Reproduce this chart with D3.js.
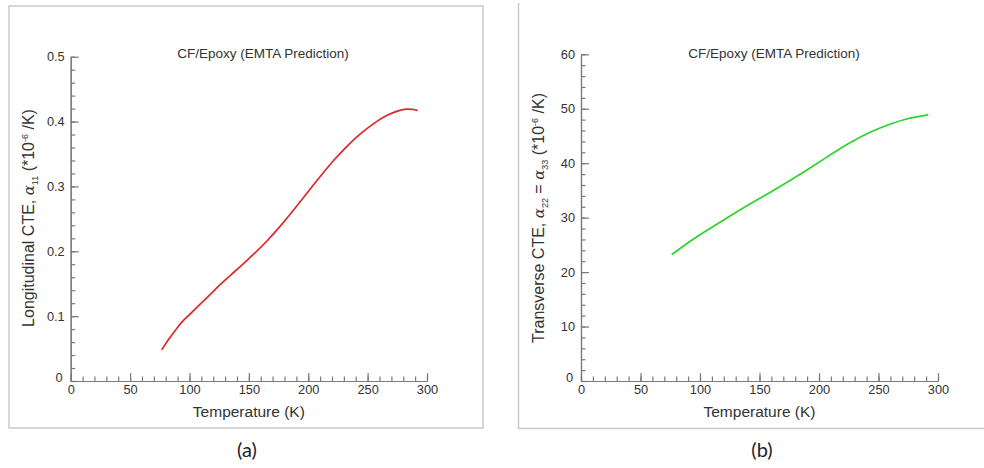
<!DOCTYPE html>
<html>
<head>
<meta charset="utf-8">
<script src="https://cdn.jsdelivr.net/npm/d3@7"></script>
<style>
  body { margin: 0; background: #fff; }
  text { font-family: "Liberation Sans", Arial, sans-serif; fill: #333; }
  .axis path, .axis line { stroke: #7a7a7a; stroke-width: 1.2; }
</style>
</head>
<body>
<div id="chart"></div>
<script>
// data
var tempA = [76.6, 83, 89.2, 94, 99.9, 107, 114.5, 121, 128.5, 135, 142.6, 153.8, 165, 176.3, 187.5, 198.7, 209.9, 221.2, 232.4, 243.6, 254.8, 266, 277.3, 282.9, 288, 292.2];
var cteA  = [0.048, 0.066, 0.081, 0.092, 0.102, 0.115, 0.128, 0.14, 0.153, 0.164, 0.176, 0.195, 0.215, 0.238, 0.263, 0.289, 0.315, 0.340, 0.362, 0.381, 0.397, 0.410, 0.418, 0.4195, 0.419, 0.417];

var tempB = [76.2, 87.4, 98.6, 109.8, 126.6, 143.4, 160.2, 177, 193.8, 210.6, 227.5, 244.3, 261.1, 272.3, 282, 291.9];
var cteB  = [23.2, 25.0, 26.7, 28.2, 30.5, 32.7, 34.8, 37.0, 39.3, 41.7, 44.0, 45.9, 47.3, 48.1, 48.5, 48.9];

var xTicks = [0, 50, 100, 150, 200, 250, 300];
var yTicksA = [0, 0.1, 0.2, 0.3, 0.4, 0.5];
var yTicksB = [0, 10, 20, 30, 40, 50, 60];

var panelTitle = "CF/Epoxy (EMTA Prediction)";
var xTitle = "Temperature (K)";

var width = 984, height = 468;

var svg = d3.select("#chart").append("svg")
    .attr("width", width)
    .attr("height", height);

// panel frames
svg.append("rect")
    .attr("x", 9).attr("y", 6)
    .attr("width", 474).attr("height", 422)
    .attr("fill", "none")
    .attr("stroke", "#c9c9c9")
    .attr("stroke-width", 1.5);

svg.append("path")
    .attr("d", "M518.5,3 L518.5,428.5 L984,428.5")
    .attr("fill", "none")
    .attr("stroke", "#c9c9c9")
    .attr("stroke-width", 1.5);

function styleTicks(g) {
    g.attr("font-family", null).attr("font-size", null);
    g.selectAll(".tick text")
        .style("font-family", "'Liberation Sans', Arial, sans-serif")
        .style("font-size", "12.8px")
        .style("fill", "#333");
}

function drawPanel(p) {
    var x = d3.scaleLinear().domain([0, 300]).range([p.x0, p.x1]);
    var y = d3.scaleLinear().domain([0, p.yMax]).range([p.y0, p.y1]);

    // minor ticks first
    var xMinor = d3.range(0, 301, 10);
    var yMinor = d3.range(0, p.yMax + p.yMinorStep / 2, p.yMinorStep);

    svg.append("g")
        .attr("class", "axis")
        .attr("transform", "translate(0," + p.y0 + ")")
        .call(d3.axisBottom(x).tickValues(xMinor).tickSize(-4.5).tickSizeOuter(0).tickFormat(""));

    svg.append("g")
        .attr("class", "axis")
        .attr("transform", "translate(" + p.x0 + ",0)")
        .call(d3.axisLeft(y).tickValues(yMinor).tickSize(-4.5).tickSizeOuter(0).tickFormat(""));

    // major ticks + labels
    svg.append("g")
        .attr("class", "axis")
        .attr("transform", "translate(0," + p.y0 + ")")
        .call(d3.axisBottom(x).tickValues(xTicks).tickSize(-8).tickSizeOuter(0).tickPadding(4))
        .call(styleTicks);

    var yAx = svg.append("g")
        .attr("class", "axis")
        .attr("transform", "translate(" + p.x0 + ",0)")
        .call(d3.axisLeft(y).tickValues(p.yTicks).tickSize(-8).tickSizeOuter(0).tickPadding(6)
            .tickFormat(function(d) { return String(d); }))
        .call(styleTicks);

    // the zero label sits a bit up-left like the original
    yAx.selectAll(".tick text")
        .filter(function(d) { return d === 0; })
        .attr("dy", "0.05em")
        .attr("x", -8);

    // curve
    var pts = p.temps.map(function(t, i) { return [t, p.vals[i]]; });
    var line = d3.line()
        .x(function(d) { return x(d[0]); })
        .y(function(d) { return y(d[1]); })
        .curve(d3.curveBasis);

    svg.append("path")
        .datum(pts)
        .attr("d", line)
        .attr("fill", "none")
        .attr("stroke", p.color)
        .attr("stroke-width", 1.7);

    // title
    svg.append("text")
        .attr("x", p.titleX)
        .attr("y", 58)
        .attr("text-anchor", "middle")
        .style("font-size", "13.5px")
        .text(panelTitle);

    // x title
    svg.append("text")
        .attr("x", (p.x0 + p.x1) / 2)
        .attr("y", 417)
        .attr("text-anchor", "middle")
        .style("font-size", "15.5px")
        .text(xTitle);

    // y title
    var yt = svg.append("text")
        .attr("transform", "translate(" + p.yLabelX + ",218) rotate(-90)")
        .attr("text-anchor", "middle")
        .style("font-size", "16px");
    p.yLabel.forEach(function(part) {
        var ts = yt.append("tspan").text(part.t);
        if (part.sub) ts.style("font-size", "9px").attr("dy", part.sub);
        if (part.greek) ts.style("font-family", "'DejaVu Serif', serif").style("font-style", "italic").style("font-size", "15px");
        if (part.dy) ts.attr("dy", part.dy);
    });

    // panel letter
    svg.append("text")
        .attr("x", p.letterX)
        .attr("y", 457)
        .attr("text-anchor", "middle")
        .style("font-family", "Lato, 'Open Sans', sans-serif")
        .style("font-size", "20px")
        .style("fill", "#222")
        .text(p.letter);
}

drawPanel({
    x0: 70.7, x1: 427, y0: 381, y1: 56.7,
    yMax: 0.5, yMinorStep: 0.02, yTicks: yTicksA,
    temps: tempA, vals: cteA, color: "#e0262b",
    titleX: 263, yLabelX: 34, letterX: 247, letter: "(a)",
    yLabel: [
        {t: "Longitudinal CTE, "},
        {t: "α", greek: true},
        {t: "11", sub: "4"},
        {t: " (*10", dy: "-4"},
        {t: "-6", sub: "-6"},
        {t: " /K)", dy: "6"}
    ]
});

drawPanel({
    x0: 581, x1: 938, y0: 381, y1: 54.3,
    yMax: 60, yMinorStep: 2, yTicks: yTicksB,
    temps: tempB, vals: cteB, color: "#2bd42b",
    titleX: 774, yLabelX: 544, letterX: 762, letter: "(b)",
    yLabel: [
        {t: "Transverse CTE, "},
        {t: "α", greek: true},
        {t: "22", sub: "4"},
        {t: " = ", dy: "-4"},
        {t: "α", greek: true},
        {t: "33", sub: "4"},
        {t: " (*10", dy: "-4"},
        {t: "-6", sub: "-6"},
        {t: " /K)", dy: "6"}
    ]
});
</script>
</body>
</html>
